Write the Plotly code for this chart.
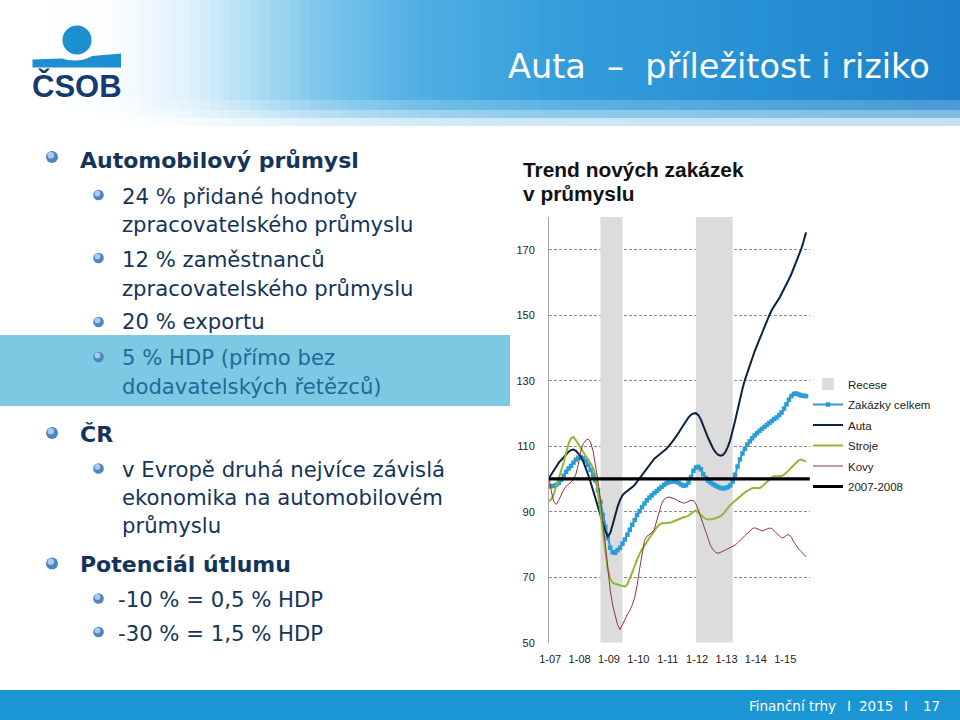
import plotly.graph_objects as go

# ---------------- DATA ----------------
# month index 0 = 1/2007 ... 105 = 10/2015
mesice = list(range(106))
popisky_x = ["1-07", "1-08", "1-09", "1-10", "1-11", "1-12", "1-13", "1-14", "1-15"]
popisky_y = [50, 70, 90, 110, 130, 150, 170]
osa_min, osa_max = 50, 180

# recession periods: first month index and length in months
recese_start = [21, 60]
recese_delka = [9, 15]

zakazky_celkem = [
    97.8, 97.8, 97.9, 98.2, 98.8, 99.8, 101.0, 102.2, 103.2, 104.0,
    105.0, 105.9, 106.5, 106.7, 106.3, 105.5, 104.3, 102.8, 101.3, 99.5,
    96.5, 93.0, 89.0, 85.3, 82.0, 79.0, 77.6, 77.5, 78.2, 79.0,
    80.2, 81.5, 83.0, 84.5, 86.0, 87.5, 89.0, 90.2, 91.4, 92.5,
    93.5, 94.3, 95.0, 95.7, 96.3, 97.0, 97.6, 98.2, 98.7, 99.0,
    99.2, 99.3, 99.2, 98.8, 98.3, 97.9, 98.1, 98.9, 100.6, 102.5,
    103.5, 103.7, 103.0, 101.5, 100.3, 99.5, 98.9, 98.4, 98.0, 97.6,
    97.3, 97.1, 97.2, 97.5, 98.0, 99.2, 101.3, 103.8, 106.0, 107.8,
    109.2, 110.5, 111.5, 112.4, 113.3, 114.0, 114.7, 115.3, 115.9, 116.5,
    117.1, 117.7, 118.3, 118.8, 119.5, 120.3, 121.5, 122.8, 124.2, 125.3,
    126.0, 126.1, 125.8, 125.5, 125.4, 125.3]

auta = [
    100.3, 101.5, 103.0, 104.0, 105.0, 105.8, 106.7, 107.5, 108.3, 108.8,
    109.0, 108.6, 107.8, 106.8, 105.3, 103.5, 101.3, 99.0, 96.5, 94.0,
    91.5, 89.0, 86.5, 84.0, 82.5, 83.5, 86.0, 89.0, 91.5, 93.5,
    95.0, 95.8, 96.3, 97.0, 97.5, 98.2, 99.2, 100.2, 101.3, 102.5,
    103.5, 104.5, 105.3, 106.2, 106.8, 107.5, 108.1, 108.6, 109.2, 110.0,
    111.0, 112.0, 113.0, 114.2, 115.4, 116.6, 117.8, 118.8, 119.6, 120.0,
    120.1, 119.5, 118.2, 116.5, 114.4, 112.5, 110.8, 109.3, 108.2, 107.4,
    107.1, 107.3, 108.2, 109.7, 111.8, 114.5, 117.7, 121.0, 124.5, 127.5,
    130.2, 132.5, 134.8, 137.0, 139.0, 140.9, 142.8, 144.6, 146.4, 148.2,
    150.0, 151.6, 153.0, 154.0, 155.1, 156.5, 158.0, 159.5, 161.0, 162.6,
    164.4, 166.2, 168.2, 170.2, 172.6, 175.3]

stroje = [
    93.2, 93.8, 95.5, 97.8, 100.0, 102.5, 105.0, 108.0, 110.8, 112.5,
    112.8, 111.8, 110.5, 109.2, 108.2, 107.0, 106.0, 104.8, 103.4, 101.2,
    96.0, 90.0, 84.0, 77.5, 72.5, 69.5, 68.3, 68.0, 67.8, 67.6,
    67.3, 67.1, 67.8, 69.5, 71.5, 73.5, 75.5, 77.2, 78.5, 79.8,
    81.0, 82.0, 83.0, 84.2, 85.2, 86.0, 86.5, 86.5, 86.5, 86.6,
    86.8, 87.1, 87.5, 87.9, 88.2, 88.3, 88.5, 88.8, 89.4, 90.0,
    90.3, 89.8, 89.0, 88.3, 87.8, 87.6, 87.6, 87.8, 88.0, 88.2,
    88.6, 89.2, 90.2, 91.2, 92.0, 92.7, 93.4, 94.1, 94.8, 95.4,
    95.9, 96.4, 96.9, 97.2, 97.3, 97.2, 97.2, 97.7, 98.5, 99.2,
    99.8, 100.5, 100.8, 100.8, 100.8, 100.9, 101.3, 101.9, 102.7, 103.5,
    104.3, 105.1, 105.7, 105.9, 105.6, 105.3]

kovy = [
    100.5, 96.0, 93.0, 92.2, 93.5, 95.2, 96.7, 97.8, 98.6, 99.1,
    99.8, 101.5, 104.5, 108.5, 110.8, 111.8, 112.2, 111.2, 108.5, 104.5,
    99.5, 94.0, 87.0, 79.5, 72.0, 66.0, 61.5, 58.5, 55.5, 54.0,
    55.5, 57.4, 58.6, 59.8, 61.5, 63.8, 67.5, 72.5, 77.5, 81.2,
    82.5, 83.0, 83.6, 84.6, 87.5, 90.2, 92.5, 93.8, 94.3, 94.5,
    94.3, 94.0, 93.7, 93.2, 92.8, 92.6, 92.8, 93.1, 93.5, 93.4,
    92.4, 90.5, 88.2, 85.8, 83.5, 81.4, 79.6, 78.4, 77.6, 77.3,
    77.5, 77.9, 78.3, 78.7, 79.0, 79.4, 79.8, 80.5, 81.2, 81.9,
    82.7, 83.5, 84.2, 84.8, 85.1, 84.9, 84.5, 84.1, 84.3, 84.7,
    85.0, 84.9, 84.1, 83.3, 82.5, 82.0, 82.2, 82.8, 83.0, 82.2,
    80.8, 79.6, 78.6, 77.8, 76.9, 76.2]

uroven_2007_2008 = 100

# ---------------- STYLE ----------------
W, H = 960, 720
def px(x): return x / W
def py(y): return 1 - y / H

C_ZAK = "#2a9dd6"
C_AUTA = "#0c2340"
C_STROJE = "#93b635"
C_KOVY = "#8a3b3b"
C_REC = "#dcdcdc"
NAVY = "#153459"
BODY = "DejaVu Sans"
ARIAL = "Liberation Sans, Arial"

fig = go.Figure()
fig.add_trace(go.Bar(
    x=recese_start, y=[osa_max - osa_min] * len(recese_start), base=osa_min,
    width=recese_delka, offset=0, marker=dict(color=C_REC, line=dict(width=0)),
    name="Recese", legendgroup="a", hoverinfo="skip"))
fig.add_trace(go.Scatter(
    x=mesice, y=zakazky_celkem, mode="lines+markers", name="Zakázky celkem",
    line=dict(color=C_ZAK, width=2), legendgroup="b",
    marker=dict(symbol="square", size=4.5, color=C_ZAK, line=dict(width=0))))
fig.add_trace(go.Scatter(x=mesice, y=auta, mode="lines", name="Auta",
                         line=dict(color=C_AUTA, width=2), legendgroup="c"))
fig.add_trace(go.Scatter(x=mesice, y=stroje, mode="lines", name="Stroje",
                         line=dict(color=C_STROJE, width=2), legendgroup="d"))
fig.add_trace(go.Scatter(x=mesice, y=kovy, mode="lines", name="Kovy",
                         line=dict(color=C_KOVY, width=1), legendgroup="e"))
fig.add_trace(go.Scatter(x=[mesice[0], mesice[-1] + 1.5],
                         y=[uroven_2007_2008, uroven_2007_2008],
                         mode="lines", name="2007-2008",
                         line=dict(color="#000000", width=3.2), legendgroup="f"))

shapes = []
annotations = []

# header gradient
stops = [(0, (255, 255, 255)), (110, (252, 254, 255)), (190, (222, 241, 250)),
         (250, (178, 222, 243)), (320, (125, 198, 235)), (420, (80, 175, 226)),
         (560, (52, 158, 219)), (760, (38, 144, 212)), (960, (28, 128, 202))]

def col_at(x):
    for (x0, c0), (x1, c1) in zip(stops[:-1], stops[1:]):
        if x0 <= x <= x1:
            t = (x - x0) / (x1 - x0)
            return tuple(c0[i] + (c1[i] - c0[i]) * t for i in range(3))
    return stops[-1][1]

rows = [(0, 100, 0.0), (100, 110, 0.2), (110, 118, 0.45), (118, 126, 0.75)]
step = 10
for xs in range(0, W, step):
    c = col_at(xs + step / 2)
    for (y0, y1, f) in rows:
        cc = tuple(int(round(c[i] + (255 - c[i]) * f)) for i in range(3))
        shapes.append(dict(type="rect", xref="paper", yref="paper",
                           x0=px(xs), x1=px(xs + step + 0.5), y0=py(y1), y1=py(y0),
                           fillcolor="rgb(%d,%d,%d)" % cc, line=dict(width=0),
                           layer="below"))

# footer
shapes.append(dict(type="rect", xref="paper", yref="paper", x0=0, x1=1,
                   y0=0, y1=py(690), fillcolor="#1a96d5", line=dict(width=0)))
# highlight band
shapes.append(dict(type="rect", xref="paper", yref="paper", x0=0, x1=px(510),
                   y0=py(406), y1=py(335), fillcolor="#7dc9e4", line=dict(width=0),
                   layer="below"))

# logo
shapes.append(dict(type="circle", xref="paper", yref="paper",
                   x0=px(62.5), x1=px(91.5), y0=py(54.5), y1=py(25.5),
                   fillcolor="#1b8fd0", line=dict(width=0)))
band_pts = "M{},{} L{},{} C{},{} {},{} {},{} L{},{} L{},{} L{},{} Z".format(
    px(32.5), py(59.5), px(62), py(58.5),
    px(70), py(61.5), px(84), py(61.5), px(92), py(56),
    px(121), py(53.5), px(121), py(67.5), px(32.5), py(67.5))
shapes.append(dict(type="path", xref="paper", yref="paper", path=band_pts,
                   fillcolor="#1b8fd0", line=dict(width=0)))
annotations.append(dict(text="<b>ČSOB</b>", x=px(77), y=py(85.5), xref="paper",
                        yref="paper", xanchor="center", yanchor="middle",
                        showarrow=False,
                        font=dict(family=ARIAL, size=31, color="#163b6e")))

# title
annotations.append(dict(text="Auta  –  příležitost i riziko", x=px(932), y=py(66),
                        xref="paper", yref="paper", xanchor="right", yanchor="middle",
                        showarrow=False, font=dict(family=BODY, size=33.5, color="white")))

# bullets
def sphere(cx, cy, r):
    shapes.append(dict(type="circle", xref="paper", yref="paper",
                       x0=px(cx - r), x1=px(cx + r), y0=py(cy + r), y1=py(cy - r),
                       fillcolor="#4f84c2", line=dict(width=0)))
    hr = r * 0.55
    hx, hy = cx - r * 0.2, cy - r * 0.3
    shapes.append(dict(type="circle", xref="paper", yref="paper",
                       x0=px(hx - hr), x1=px(hx + hr), y0=py(hy + hr), y1=py(hy - hr),
                       fillcolor="#bcd6ef", opacity=0.85, line=dict(width=0)))

def txt(t, x, y, size, bold=False, color=NAVY):
    annotations.append(dict(text=("<b>%s</b>" % t) if bold else t, x=px(x), y=py(y),
                            xref="paper", yref="paper", xanchor="left",
                            yanchor="middle", showarrow=False,
                            font=dict(family=BODY, size=size, color=color)))

HS, SS = 22, 21.2
sphere(52, 157, 6)
txt("Automobilový průmysl", 78, 160.6, HS, True)
sphere(98.5, 195, 5.3)
txt("24 % přidané hodnoty", 120, 196.8, SS)
txt("zpracovatelského průmyslu", 120, 224.5, SS)
sphere(98.5, 258, 5.3)
txt("12 % zaměstnanců", 120, 259.5, SS)
txt("zpracovatelského průmyslu", 120, 288.5, SS)
sphere(98.5, 322, 5.3)
txt("20 % exportu", 120, 321.8, SS)
sphere(98.5, 357, 5.3)
txt("5 % HDP (přímo bez", 120, 357.8, SS, color="#1d6b98")
txt("dodavatelských řetězců)", 120, 386.1, SS, color="#1d6b98")
sphere(52, 433, 6)
txt("ČR", 78, 434, HS, True)
sphere(98.5, 468.5, 5.3)
txt("v Evropě druhá nejvíce závislá", 120, 469.5, SS)
txt("ekonomika na automobilovém", 120, 497.8, SS)
txt("průmyslu", 120, 525.5, SS)
sphere(52, 563.5, 6)
txt("Potenciál útlumu", 78, 564, HS, True)
sphere(98.5, 598.5, 5.3)
txt("-10 % = 0,5 % HDP", 116, 599.5, SS)
sphere(98.5, 632, 5.3)
txt("-30 % = 1,5 % HDP", 116, 633.8, SS)

# chart title
for t, yc in [("Trend nových zakázek", 169.5), ("v průmyslu", 193.5)]:
    annotations.append(dict(text="<b>%s</b>" % t, x=px(521), y=py(yc), xref="paper",
                            yref="paper", xanchor="left", yanchor="middle",
                            showarrow=False,
                            font=dict(family=ARIAL, size=20.9, color="#111111")))

# footer text
for t, x in [("Finanční trhy", 747), ("I", 845), ("2015", 857), ("I", 902), ("17", 921)]:
    annotations.append(dict(text=t, x=px(x), y=py(705.5), xref="paper", yref="paper",
                            xanchor="left", yanchor="middle", showarrow=False,
                            font=dict(family=BODY, size=13.5, color="white")))

fig.update_layout(
    width=W, height=H, margin=dict(l=0, r=0, t=0, b=0, autoexpand=False),
    paper_bgcolor="white", plot_bgcolor="rgba(0,0,0,0)",
    barmode="overlay", showlegend=True,
    xaxis=dict(domain=[px(549), px(810)], range=[0, 106.6],
               tickvals=[12 * i + 0.5 for i in range(len(popisky_x))],
               ticktext=popisky_x, showgrid=False, zeroline=False, showline=False,
               ticks="", ticklabelstandoff=8,
               tickfont=dict(family=ARIAL, size=11, color="#222222")),
    yaxis=dict(domain=[py(642.7), py(217)], range=[osa_min, osa_max],
               tickvals=popisky_y, showgrid=True, gridcolor="#8c8c8c",
               griddash="3px,2px", gridwidth=1, zeroline=False, showline=True,
               linecolor="#a6a6a6", linewidth=1, ticks="", ticklabelstandoff=11,
               tickfont=dict(family=ARIAL, size=11, color="#222222")),
    legend=dict(x=px(808), y=py(369.5), xanchor="left", yanchor="top",
                bgcolor="rgba(0,0,0,0)", traceorder="grouped", tracegroupgap=1.5,
                font=dict(family=ARIAL, size=11.5, color="#222222")),
    shapes=shapes, annotations=annotations,
)

fig.write_html(
    "out.html",
    config={"displayModeBar": False},
    post_script="document.body.style.margin='0';document.body.style.overflow='hidden';",
)
